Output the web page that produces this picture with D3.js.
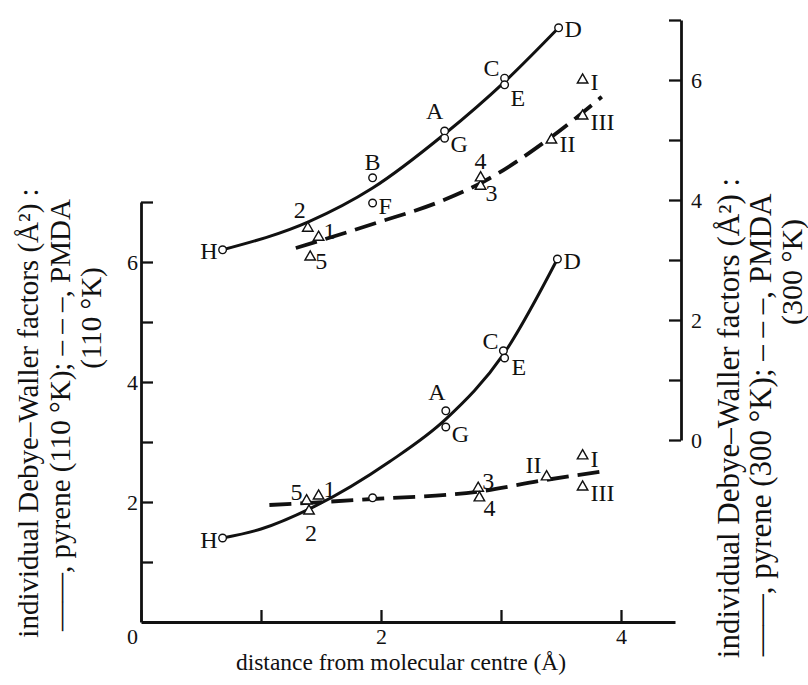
<!DOCTYPE html>
<html>
<head>
<meta charset="utf-8">
<script src="https://cdn.jsdelivr.net/npm/d3@7"></script>
<style>
body{margin:0;background:#fff}
text{font-family:"Liberation Serif","DejaVu Serif",serif;fill:#111}
</style>
</head>
<body>
<svg></svg>
<script>
// distance from molecular centre (A) / B factors (A^2)
var pyrene110Names = ["H","A","G","C","E","D",""]
var pyrene110X = [0.68, 2.54, 2.54, 3.02, 3.03, 3.47, 1.93]
var pyrene110B = [1.40, 3.52, 3.25, 4.52, 4.40, 6.05, 2.07]

var pmda110Names = ["1","2","3","4","5","I","II","III"]
var pmda110X = [1.48, 1.40, 2.81, 2.82, 1.38, 3.68, 3.38, 3.68]
var pmda110B = [2.10, 1.85, 2.23, 2.07, 2.02, 2.77, 2.42, 2.25]

var pyrene300Names = ["H","B","F","A","G","C","E","D"]
var pyrene300X = [0.68, 1.93, 1.93, 2.53, 2.53, 3.03, 3.03, 3.48]
var pyrene300B = [3.17, 4.37, 3.95, 5.15, 5.03, 6.03, 5.92, 6.87]

var pmda300Names = ["1","2","3","4","5","I","II","III"]
var pmda300X = [1.48, 1.39, 2.83, 2.83, 1.41, 3.68, 3.42, 3.68]
var pmda300B = [3.38, 3.53, 4.23, 4.37, 3.05, 6.00, 5.00, 5.40]

// drawn curves
var curve110X = [0.68, 1.0, 1.45, 2.07, 2.54, 3.02, 3.47]
var curve110B = [1.40, 1.55, 1.93, 2.67, 3.38, 4.46, 6.05]
var dash110X = [1.07, 1.93, 2.8, 3.38, 3.89]
var dash110B = [1.95, 2.05, 2.17, 2.37, 2.52]
var curve300X = [0.68, 1.4, 1.93, 2.53, 3.03, 3.48]
var curve300B = [3.17, 3.64, 4.2, 5.1, 5.97, 6.87]
var dash300X = [1.29, 1.98, 2.5, 2.83, 3.42, 3.84]
var dash300B = [3.2, 3.63, 3.98, 4.28, 5.05, 5.72]

var xTicks = [0, 1, 2, 3, 4]
var xTickLabels = ["0", "", "2", "", "4"]
var leftTicks = [1, 2, 3, 4, 5, 6, 7]
var rightTicks = [0, 1, 2, 3, 4, 5, 6, 7]

// label placement: [dx, dy, anchor]
var lab110 = {H:[-5,1,"end"], A:[-9,-19,"middle"], G:[6,6,"start"], C:[-5,-10,"end"], E:[7,8,"start"], D:[6,1,"start"]}
var labP110 = {"1":[5,-8,"start"], "2":[2,21,"middle"], "3":[4,-8,"start"], "4":[4,10,"start"], "5":[-4,-9,"end"], "I":[8,3,"start"], "II":[-5,-12,"end"], "III":[8,5,"start"]}
var lab300 = {H:[-5,1,"end"], B:[0,-16,"middle"], F:[6,2,"start"], A:[-10,-21,"middle"], G:[6,5,"start"], C:[-5,-11,"end"], E:[6,13,"start"], D:[6,1,"start"]}
var labP300 = {"1":[5,-7,"start"], "2":[-8,-19,"middle"], "3":[5,6,"start"], "4":[0,-17,"middle"], "5":[5,3,"start"], "I":[8,1,"start"], "II":[8,3,"start"], "III":[8,5,"start"]}

var width = 808, height = 685
var svg = d3.select("svg").attr("width", width).attr("height", height)

var x = d3.scaleLinear().domain([0, 4.45]).range([141, 675])
var yLow = d3.scaleLinear().domain([0, 7]).range([622, 202])
var yHigh = d3.scaleLinear().domain([0, 7]).range([440, 20])

var styleAxis = function(g){
    g.select(".domain").attr("stroke", "#111").attr("stroke-width", 2.8)
    g.selectAll(".tick line").attr("stroke", "#111").attr("stroke-width", 2.3)
    g.selectAll("text").style("font-family", '"Liberation Serif",serif').style("font-size", "22px").attr("fill", "#111")
}

//x-axis
var gx = svg.append("g")
    .attr("transform", "translate(0,622)")
    .call(d3.axisBottom(x).tickValues(xTicks)
        .tickFormat(function(d, i){ return xTickLabels[i] })
        .tickSizeInner(-12).tickSizeOuter(0).tickPadding(6))
styleAxis(gx)
gx.selectAll(".tick text").attr("dx", function(d){ return d == 0 ? -9 : 0 })

//left y-axis
var gl = svg.append("g")
    .attr("transform", "translate(141,0)")
    .call(d3.axisLeft(yLow).tickValues(leftTicks)
        .tickFormat(function(d){ return d % 2 == 0 ? d : "" })
        .tickSizeInner(-12).tickSizeOuter(0).tickPadding(3))
styleAxis(gl)

//right y-axis
var gr = svg.append("g")
    .attr("transform", "translate(681,0)")
    .call(d3.axisRight(yHigh).tickValues(rightTicks)
        .tickFormat(function(d){ return d % 2 == 0 ? d : "" })
        .tickSizeInner(-12).tickSizeOuter(0).tickPadding(10))
styleAxis(gr)

var drawLine = function(xs, bs, yScale, dashed){
    var line = d3.line()
        .x(function(d){ return x(d[0]) })
        .y(function(d){ return yScale(d[1]) })
        .curve(d3.curveMonotoneX)
    svg.append("path")
        .datum(d3.zip(xs, bs))
        .attr("d", line)
        .attr("fill", "none")
        .attr("stroke", "#111")
        .attr("stroke-width", dashed ? 3.8 : 3)
        .attr("stroke-dasharray", dashed ? "22,9" : null)
}
drawLine(curve110X, curve110B, yLow, false)
drawLine(dash110X, dash110B, yLow, true)
drawLine(curve300X, curve300B, yHigh, false)
drawLine(dash300X, dash300B, yHigh, true)

var drawPoints = function(names, xs, bs, yScale, tri, labels){
    var pts = d3.zip(names, xs, bs)
    var g = svg.append("g")
    if (tri) {
        g.selectAll("path").data(pts).enter().append("path")
            .attr("d", d3.symbol().type(d3.symbolTriangle).size(48))
            .attr("transform", function(d){ return "translate(" + x(d[1]) + "," + yScale(d[2]) + ")" })
            .attr("fill", "#fff").attr("stroke", "#111").attr("stroke-width", 1.4)
    } else {
        g.selectAll("circle").data(pts).enter().append("circle")
            .attr("cx", function(d){ return x(d[1]) })
            .attr("cy", function(d){ return yScale(d[2]) })
            .attr("r", 3.8)
            .attr("fill", "#fff").attr("stroke", "#111").attr("stroke-width", 1.4)
    }
    g.selectAll("text").data(pts.filter(function(d){ return d[0] != "" })).enter().append("text")
        .attr("x", function(d){ return x(d[1]) + labels[d[0]][0] })
        .attr("y", function(d){ return yScale(d[2]) + labels[d[0]][1] })
        .attr("dy", "0.36em")
        .attr("text-anchor", function(d){ return labels[d[0]][2] })
        .style("font-size", "24px")
        .text(function(d){ return d[0] })
}
drawPoints(pyrene110Names, pyrene110X, pyrene110B, yLow, false, lab110)
drawPoints(pmda110Names, pmda110X, pmda110B, yLow, true, labP110)
drawPoints(pyrene300Names, pyrene300X, pyrene300B, yHigh, false, lab300)
drawPoints(pmda300Names, pmda300X, pmda300B, yHigh, true, labP300)

// axis titles
svg.append("text")
    .attr("x", 401).attr("y", 670)
    .attr("text-anchor", "middle")
    .style("font-size", "23.5px")
    .text("distance from molecular centre (Å)")

var vTitle = function(cx, cy, txt, size){
    svg.append("text")
        .attr("transform", "translate(" + cx + "," + cy + ") rotate(-90)")
        .attr("text-anchor", "middle")
        .attr("dy", "0.36em")
        .style("font-size", size + "px")
        .text(txt)
}
vTitle(28, 413, "individual Debye–Waller factors (Å²) :", 29)
vTitle(60, 415, "——, pyrene (110 °K); – – –, PMDA", 29)
vTitle(91, 318, "(110 °K)", 29)
vTitle(728, 418, "individual Debye–Waller factors (Å²) :", 31)
vTitle(760, 425, "——, pyrene (300 °K); – – –, PMDA", 31)
vTitle(791, 272, "(300 °K)", 30)
</script>
</body>
</html>
